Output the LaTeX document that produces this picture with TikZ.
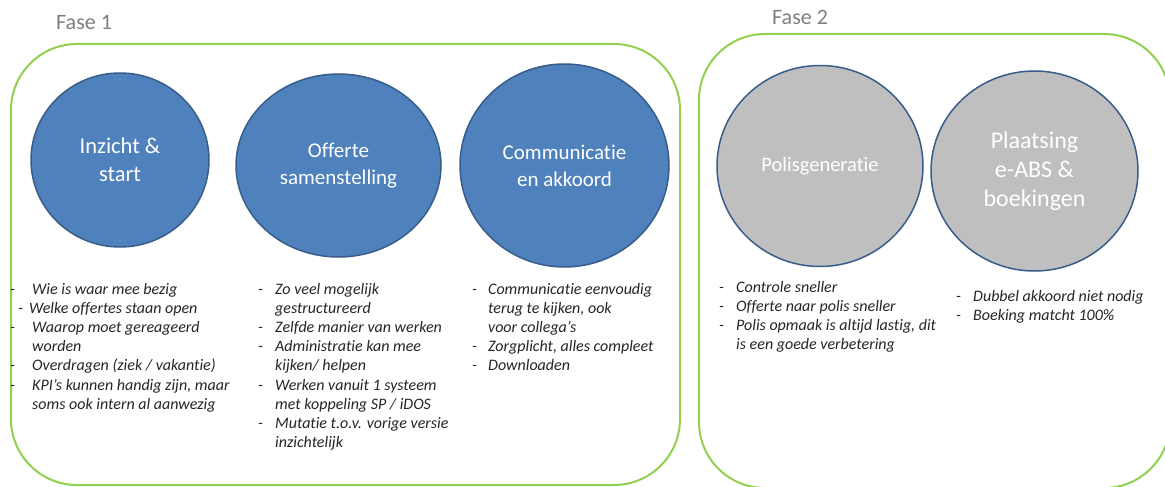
\documentclass[tikz,border=0pt]{standalone}
\usepackage{fontspec}
\setmainfont{Carlito}[Ligatures={TeX,NoCommon}]
\usetikzlibrary{shapes.geometric}
\definecolor{boxgreen}{HTML}{92D050}
\definecolor{cblue}{HTML}{4F81BD}
\definecolor{cborder}{HTML}{385D8A}
\definecolor{cgray}{HTML}{BFBFBF}
\definecolor{lblgray}{HTML}{7F7F7F}
\definecolor{txt}{HTML}{262626}
\newcommand{\itm}[2]{\makebox[#1pt][l]{-}#2}
\newcommand{\cnt}[2]{\hspace*{#1pt}#2}
\begin{document}
\begin{tikzpicture}[x=1pt,y=-1pt,
  phasebox/.style={draw=boxgreen,line width=2pt,rounded corners=66pt},
  phaselbl/.style={anchor=base west,inner sep=0pt,text=lblgray,font=\fontsize{22}{26}\selectfont},
  bcirc/.style={ellipse,draw=cborder,line width=1.5pt,fill=cblue,text=white,inner sep=0pt,align=center,font=\fontsize{21}{27}\selectfont},
  gcirc/.style={ellipse,draw=cborder,line width=1.5pt,fill=cgray,text=white,inner sep=0pt,align=center,font=\fontsize{21}{27}\selectfont},
  lst/.style={anchor=base west,inner sep=0pt,text=txt,font=\fontsize{16}{19.2}\selectfont\itshape}]
\useasboundingbox (0,0) rectangle (1165,487);
\clip (0,0) rectangle (1165,487);
\fill[white] (0,0) rectangle (1165,487);
% phase boxes
\draw[phasebox] (11,44) rectangle (680,485);
\draw[phasebox] (699,34) rectangle (1170,488);
\node[phaselbl] (f1) at (56,30) {Fase 1};
\node[phaselbl] (f2) at (772,25) {Fase 2};
% circles
\node[bcirc,minimum width=178pt,minimum height=174pt,font=\fontsize{22.5}{28}\selectfont] (c1) at (120,160) {Inzicht \&\\start};
\node[bcirc,minimum width=205pt,minimum height=183pt] (c2) at (338.5,165.5) {Offerte\\samenstelling};
\node[bcirc,minimum width=209pt,minimum height=203pt] (c3) at (564.5,165.5) {Communicatie\\en akkoord};
\node[gcirc,minimum width=206pt,minimum height=201pt,font=\fontsize{20.5}{27}\selectfont] (c4) at (820,166) {Polisgeneratie};
\node[gcirc,minimum width=207pt,minimum height=200pt,font=\fontsize{24}{29}\selectfont] (c5) at (1034.5,171) {Plaatsing\\e-ABS \&\\boekingen};
% lists
\node[lst] (l1) at (10,294) {\parbox[t]{250pt}{%
\itm{22}{Wie is waar mee bezig}\\
\hspace*{8pt}\makebox[11pt][l]{-}Welke offertes staan open\\
\itm{22}{Waarop moet gereageerd}\\
\cnt{22}{worden}\\
\itm{22}{Overdragen (ziek / vakantie)}\\
\itm{22}{KPI's kunnen handig zijn, maar}\\
\cnt{22}{soms ook intern al aanwezig}}};
\node[lst] (l2) at (258,294) {\parbox[t]{250pt}{%
\itm{17}{Zo veel mogelijk}\\
\cnt{17}{gestructureerd}\\
\itm{17}{Zelfde manier van werken}\\
\itm{17}{Administratie kan mee}\\
\cnt{17}{kijken/ helpen}\\
\itm{17}{Werken vanuit 1 systeem}\\
\cnt{17}{met koppeling SP / iDOS}\\
\itm{17}{Mutatie t.o.v. vorige versie}\\
\cnt{17}{inzichtelijk}}};
\node[lst] (l3) at (472,294) {\parbox[t]{250pt}{%
\itm{16}{Communicatie eenvoudig}\\
\cnt{16}{terug te kijken, ook}\\
\cnt{16}{voor collega's}\\
\itm{16}{Zorgplicht, alles compleet}\\
\itm{16}{Downloaden}}};
\node[lst] (l4) at (719,292) {\parbox[t]{250pt}{%
\itm{17}{Controle sneller}\\
\itm{17}{Offerte naar polis sneller}\\
\itm{17}{Polis opmaak is altijd lastig, dit}\\
\cnt{17}{is een goede verbetering}}};
\node[lst] (l5) at (956,301) {\parbox[t]{200pt}{%
\itm{17}{Dubbel akkoord niet nodig}\\
\itm{17}{Boeking matcht 100\%}}};
\end{tikzpicture}
\end{document}
